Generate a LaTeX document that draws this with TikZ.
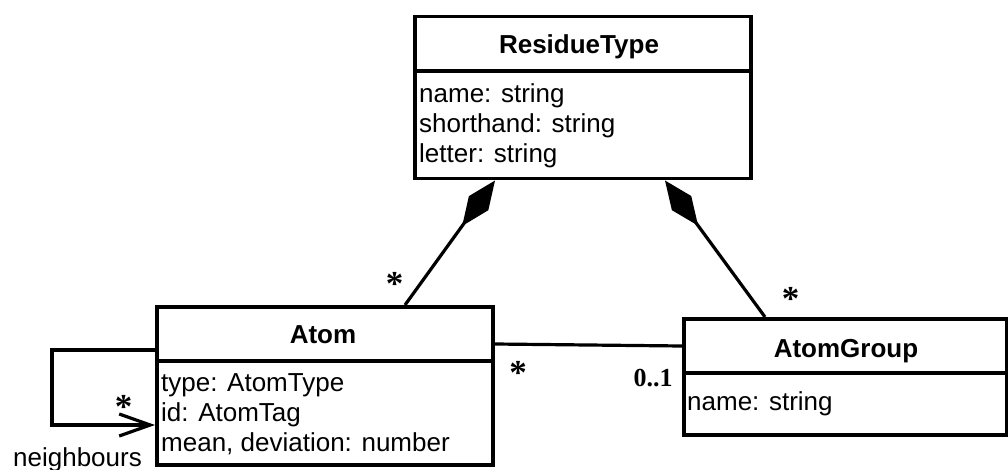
\documentclass[tikz,border=0pt]{standalone}
\usepackage{fontspec}
\setmainfont{Liberation Sans}
\newfontfamily\multfont{Liberation Serif}
\usetikzlibrary{arrows.meta}

\begin{document}
\begin{tikzpicture}[x=1pt,y=-1pt,
  classbox/.style={draw, line width=3.5pt, inner sep=0pt, anchor=north west},
  divider/.style={line width=3.2pt},
  title/.style={font=\fontsize{26}{30}\selectfont\bfseries, inner sep=0pt, anchor=base},
  attr/.style={font=\fontsize{26}{30}\selectfont, inner sep=0pt, anchor=base west},
  link/.style={line width=3.2pt},
  mult/.style={font=\fontsize{26}{30}\selectfont\multfont\bfseries, inner sep=0pt},
  many/.style={font=\fontsize{35}{40}\selectfont\multfont\bfseries, inner sep=0pt, anchor=north},
  compose/.style={-{Diamond[length=56pt,width=24pt]}},
  navig/.style={-{Straight Barb[length=31pt,width=22pt]}},
]
\useasboundingbox (0,0) rectangle (1008,470);

% class boxes
\node[classbox, minimum width=336pt, minimum height=162pt] (rt) at (413,15) {};
\node[classbox, minimum width=336pt, minimum height=158pt] (atom) at (155,305) {};
\node[classbox, minimum width=323pt, minimum height=116pt] (ag) at (682,317) {};

% compartment dividers
\draw[divider] ([yshift=-56pt]rt.north west) -- ([yshift=-56pt]rt.north east);
\draw[divider] ([yshift=-56pt]atom.north west) -- ([yshift=-56pt]atom.north east);
\draw[divider] ([yshift=-56pt]ag.north west) -- ([yshift=-56pt]ag.north east);

% class names
\node[title] (rtname) at (579,53.5) {ResidueType};
\node[title] (atomname) at (323,343) {Atom};
\node[title] (agname) at (846,357) {AtomGroup};

% attributes
\node[attr] (rt1) at (419,103) {name: string};
\node[attr] (rt2) at (419,133) {shorthand: string};
\node[attr] (rt3) at (419,163) {letter: string};
\node[attr] (at1) at (161,391) {type: AtomType};
\node[attr] (at2) at (161,421) {id: AtomTag};
\node[attr] (at3) at (161,451) {mean, deviation: number};
\node[attr] (ag1) at (687,410) {name: string};

% compositions
\draw[link, compose] ([xshift=250pt]atom.north west) -- ([xshift=82pt]rt.south west);
\draw[link, compose] ([xshift=83pt]ag.north west) -- ([xshift=252pt]rt.south west);

% association
\draw[link] ([yshift=-39pt]atom.north east) -- ([yshift=-29pt]ag.north west);

% self association
\coordinate (loopc) at (52,425);
\draw[link, navig] ([yshift=-45pt]atom.north west) -| (loopc) -- ([yshift=-120pt]atom.north west);

% multiplicities and role
\node[many] (m1) at (394.5,272) {*};
\node[many] (m2) at (790.5,287) {*};
\node[many] (m3) at (518,361) {*};
\node[mult, anchor=base] (m4) at (653,386) {0..1};
\node[many] (m5) at (123.5,395) {*};
\node[attr, anchor=base] (role) at (77.5,466) {neighbours};
\end{tikzpicture}
\end{document}
